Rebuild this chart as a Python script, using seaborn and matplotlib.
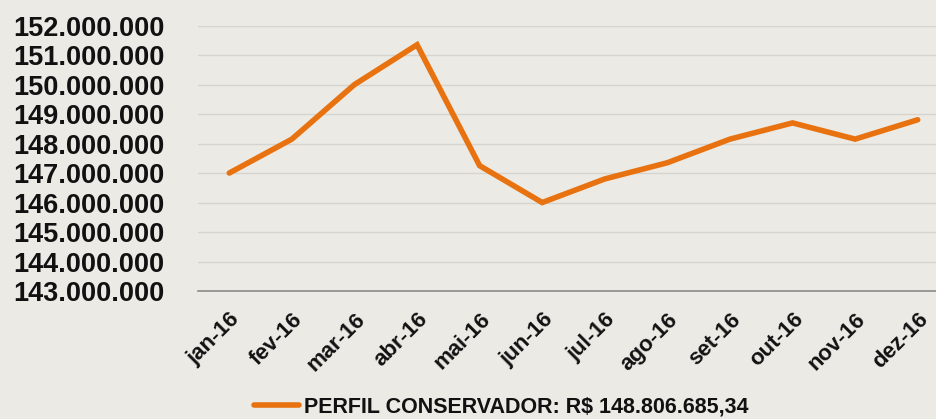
import matplotlib
matplotlib.use("Agg")
import matplotlib.pyplot as plt
import seaborn as sns
import pandas as pd
from matplotlib.ticker import FixedLocator, FuncFormatter
from matplotlib.lines import Line2D

months = ["jan-16", "fev-16", "mar-16", "abr-16", "mai-16", "jun-16",
          "jul-16", "ago-16", "set-16", "out-16", "nov-16", "dez-16"]
values = [147000000, 148150000, 150000000, 151350000, 147250000, 146000000,
          146800000, 147350000, 148150000, 148700000, 148150000, 148806685]
series_label = "PERFIL CONSERVADOR: R$ 148.806.685,34"
y_ticks = list(range(143000000, 152000001, 1000000))

sns.set_theme(style="white")
plt.rcParams['font.family'] = ['Liberation Sans', 'DejaVu Sans']

bg = "#ECEAE5"
orange = "#E8720F"

fig = plt.figure(figsize=(9.36, 4.19), dpi=100, facecolor=bg)
ax = fig.add_axes([198/936, 128/419, 751/936, 265.4/419])
ax.set_facecolor(bg)

df = pd.DataFrame({"pos": range(len(months)), "value": values})
sns.lineplot(data=df, x="pos", y="value", ax=ax, color=orange, linewidth=4.0,
             solid_joinstyle="miter")

ax.set_xlim(-0.5, len(months) - 0.5)
ax.set_ylim(y_ticks[0], y_ticks[-1])
ax.set_yticks(y_ticks)
ax.yaxis.set_major_formatter(FuncFormatter(lambda v, p: f"{int(v):,}".replace(",", ".")))
ax.grid(axis="y", color="#D6D4CF", linewidth=1.0)
ax.set_axisbelow(True)

ax.set_xticks(range(len(months)))
ax.set_xticklabels(months)
ax.xaxis.set_minor_locator(FixedLocator([i - 0.5 for i in range(len(months) + 1)]))
ax.tick_params(axis="x", which="major", length=0, pad=13)
ax.tick_params(axis="x", which="minor", length=5, width=1.2, color="#8C8C8C", direction="out")
ax.tick_params(axis="y", length=0, pad=24)
for lab in ax.get_xticklabels():
    lab.set_rotation(45)
    lab.set_ha("right")
    lab.set_va("top")
    lab.set_rotation_mode("anchor")
    lab.set_fontsize(16)
    lab.set_fontweight("bold")
    lab.set_color("#111111")
for lab in ax.get_yticklabels():
    lab.set_fontsize(19.5)
    lab.set_fontweight("bold")
    lab.set_color("#111111")

for s in ["top", "right", "left"]:
    ax.spines[s].set_visible(False)
ax.spines["bottom"].set_color("#8C8C8C")
ax.spines["bottom"].set_linewidth(1.2)
ax.set_xlabel("")
ax.set_ylabel("")

handle = Line2D([0], [0], color=orange, linewidth=4.0)
fig.legend([handle], [series_label], loc="center", bbox_to_anchor=(501/936, 1 - 407/419),
           frameon=False,
           prop={"weight": "bold", "size": 15.5},
           handlelength=2.1, handletextpad=0.2, labelcolor="#111111")

fig.savefig("out.png", dpi=100, facecolor=bg)
